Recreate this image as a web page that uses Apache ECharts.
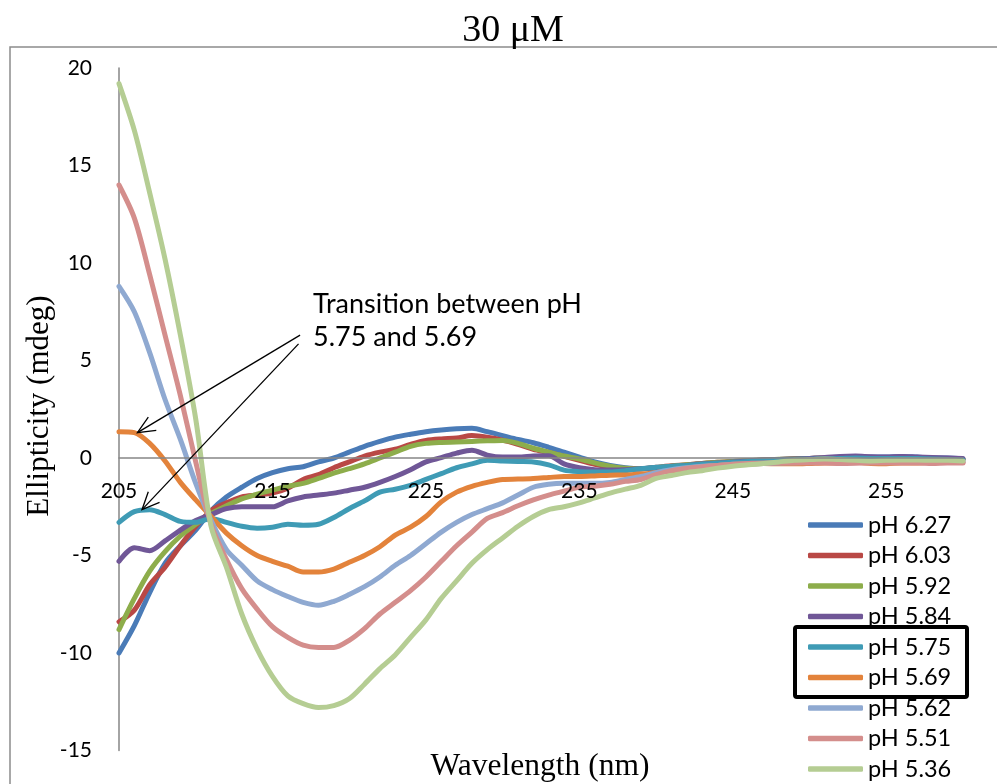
<!DOCTYPE html>
<html>
<head>
<meta charset="utf-8">
<script src="https://cdn.jsdelivr.net/npm/echarts@6/dist/echarts.min.js"></script>
<style>
  html, body { margin: 0; padding: 0; background: #ffffff; }
  #chart { width: 997px; height: 784px; }
</style>
</head>
<body>
<div id="chart"></div>
<script>
// Wavelength grid (nm), one reading per nm
const wavelengths = [];
for (let w = 205; w <= 260; w++) wavelengths.push(w);

const xTickLabels = [205, 215, 225, 235, 245, 255];
const yTicks = [-15, -10, -5, 0, 5, 10, 15, 20];

const seriesNames = ['pH 6.27', 'pH 6.03', 'pH 5.92', 'pH 5.84', 'pH 5.75', 'pH 5.69', 'pH 5.62', 'pH 5.51', 'pH 5.36'];

// CD ellipticity (mdeg), 205..260 nm
const ph627 = [-10.0, -8.6, -6.9, -5.4, -4.5, -3.7, -2.7, -2.0, -1.5, -1.05,
  -0.75, -0.55, -0.45, -0.2, 0.0, 0.3, 0.6, 0.85, 1.07, 1.22,
  1.35, 1.44, 1.5, 1.52, 1.35, 1.15, 0.95, 0.78, 0.55, 0.3,
  0.05, -0.2, -0.38, -0.5, -0.55, -0.5, -0.45, -0.38, -0.3, -0.25,
  -0.2, -0.15, -0.1, -0.08, -0.05, -0.03, 0.0, 0.05, 0.08, 0.05,
  0.05, 0.08, 0.05, 0.0, 0.0, -0.05];
const ph603 = [-8.4, -7.8, -6.5, -5.6, -4.5, -3.5, -2.7, -2.3, -2.0, -1.9,
  -1.8, -1.55, -1.1, -0.85, -0.5, -0.2, 0.1, 0.3, 0.45, 0.7,
  0.9, 0.98, 1.02, 1.15, 1.07, 0.92, 0.7, 0.45, 0.28, 0.08,
  -0.12, -0.32, -0.48, -0.55, -0.55, -0.48, -0.4, -0.35, -0.28, -0.22,
  -0.18, -0.14, -0.1, -0.08, -0.05, -0.03, 0.0, 0.03, 0.05, 0.03,
  0.0, 0.02, 0.0, -0.03, -0.05, -0.08];
const ph592 = [-8.8, -7.2, -5.8, -4.8, -4.0, -3.4, -2.85, -2.45, -2.1, -1.85,
  -1.65, -1.45, -1.3, -1.05, -0.78, -0.55, -0.3, 0.0, 0.3, 0.6,
  0.75, 0.8, 0.82, 0.85, 0.88, 0.9, 0.75, 0.5, 0.3, 0.1,
  -0.05, -0.25, -0.42, -0.52, -0.55, -0.5, -0.42, -0.35, -0.28, -0.22,
  -0.18, -0.14, -0.1, -0.06, -0.04, -0.02, 0.0, 0.0, 0.02, 0.0,
  -0.02, 0.0, 0.0, -0.02, -0.03, -0.05];
const ph584 = [-5.3, -4.6, -4.75, -4.25, -3.7, -3.2, -2.9, -2.6, -2.5, -2.5,
  -2.5, -2.2, -2.0, -1.9, -1.8, -1.65, -1.5, -1.25, -0.95, -0.6,
  -0.2, 0.02, 0.25, 0.4, 0.15, 0.05, 0.05, 0.1, 0.12, -0.3,
  -0.5, -0.6, -0.62, -0.6, -0.55, -0.5, -0.45, -0.38, -0.3, -0.25,
  -0.2, -0.15, -0.1, -0.08, -0.05, -0.02, 0.02, 0.08, 0.1, 0.06,
  0.05, 0.08, 0.05, 0.02, 0.0, -0.02];
const ph575 = [-3.3, -2.75, -2.65, -2.9, -3.25, -3.3, -3.1, -3.3, -3.5, -3.6,
  -3.55, -3.4, -3.45, -3.4, -3.05, -2.6, -2.2, -1.75, -1.6, -1.4,
  -1.1, -0.8, -0.5, -0.3, -0.12, -0.15, -0.18, -0.2, -0.35, -0.62,
  -0.7, -0.72, -0.72, -0.65, -0.55, -0.48, -0.42, -0.38, -0.32, -0.27,
  -0.22, -0.18, -0.14, -0.1, -0.08, -0.06, -0.05, -0.03, 0.0, -0.02,
  -0.03, -0.02, -0.03, -0.05, -0.08, -0.1];
const ph569 = [1.35, 1.3, 0.75, -0.15, -1.25, -2.15, -3.0, -3.85, -4.5, -5.0,
  -5.3, -5.55, -5.85, -5.85, -5.7, -5.35, -5.0, -4.55, -3.95, -3.55,
  -3.0, -2.25, -1.75, -1.45, -1.25, -1.1, -1.08, -1.05, -1.0, -0.95,
  -0.95, -0.92, -0.88, -0.87, -0.82, -0.75, -0.65, -0.55, -0.45, -0.38,
  -0.33, -0.3, -0.28, -0.3, -0.3, -0.28, -0.25, -0.25, -0.22, -0.28,
  -0.3, -0.25, -0.25, -0.22, -0.2, -0.22];
const ph562 = [8.8, 7.5, 5.4, 3.0, 0.95, -1.3, -3.2, -4.7, -5.5, -6.3,
  -6.75, -7.1, -7.4, -7.55, -7.35, -7.0, -6.6, -6.1, -5.5, -5.0,
  -4.4, -3.8, -3.3, -2.9, -2.6, -2.3, -1.9, -1.5, -1.35, -1.3,
  -1.3, -1.3, -1.25, -1.1, -0.95, -0.75, -0.6, -0.5, -0.42, -0.38,
  -0.32, -0.3, -0.28, -0.26, -0.24, -0.22, -0.2, -0.2, -0.2, -0.22,
  -0.22, -0.2, -0.18, -0.18, -0.2, -0.2];
const ph551 = [14.0, 12.3, 9.4, 6.3, 3.2, -0.2, -3.4, -5.2, -6.7, -7.75,
  -8.65, -9.2, -9.6, -9.72, -9.72, -9.35, -8.75, -8.0, -7.4, -6.8,
  -6.1, -5.3, -4.5, -3.8, -3.1, -2.8, -2.45, -2.15, -1.9, -1.7,
  -1.5, -1.45, -1.35, -1.2, -1.1, -0.85, -0.65, -0.52, -0.45, -0.38,
  -0.32, -0.28, -0.25, -0.25, -0.25, -0.25, -0.25, -0.28, -0.27, -0.25,
  -0.25, -0.25, -0.25, -0.28, -0.25, -0.25];
const ph536 = [19.2, 16.8, 13.6, 10.2, 6.3, 2.0, -3.5, -5.6, -8.0, -9.8,
  -11.2, -12.2, -12.6, -12.8, -12.7, -12.35, -11.6, -10.8, -10.1, -9.2,
  -8.3, -7.2, -6.3, -5.4, -4.7, -4.1, -3.5, -3.0, -2.65, -2.5,
  -2.3, -2.05, -1.8, -1.6, -1.4, -1.05, -0.9, -0.75, -0.65, -0.52,
  -0.42, -0.35, -0.28, -0.2, -0.12, -0.08, -0.05, -0.08, -0.12, -0.15,
  -0.12, -0.1, -0.1, -0.12, -0.12, -0.15];

const seriesValues = [ph627, ph603, ph592, ph584, ph575, ph569, ph562, ph551, ph536];
const seriesColors = ['#4A7BB7', '#B94845', '#8DAD4B', '#705797', '#3F9BB5', '#E3833B', '#8FA9D1', '#D48E8C', '#B5CD93'];

// Annotation arrows, in data coordinates [nm, mdeg]
const arrowLines = [
  { from: [216.8, 6.3], to: [206.2, 1.3] },
  { from: [216.7, 5.85], to: [206.5, -2.65] }
];

const chart = echarts.init(document.getElementById('chart'), null, { renderer: 'canvas' });

const serif = '"Liberation Serif", "Times New Roman", serif';
const sans = 'Lato, "Open Sans", sans-serif';

const series = seriesNames.map((name, i) => ({
  name: name,
  type: 'line',
  data: wavelengths.map((w, k) => [w, seriesValues[i][k]]),
  showSymbol: false,
  smooth: 0.3,
  lineStyle: { width: 5, color: seriesColors[i], cap: 'round', join: 'round' },
  itemStyle: { color: seriesColors[i] },
  emphasis: { disabled: true },
  z: 2 + i
}));

chart.setOption({
  animation: false,
  backgroundColor: '#ffffff',
  title: {
    text: '30 μM',
    left: 508,
    top: 7,
    textAlign: 'center',
    textStyle: { fontFamily: serif, fontWeight: 'normal', fontSize: 38, color: '#000' }
  },
  grid: { left: 119, right: 34, top: 68, bottom: 33.5, containLabel: false, outerBoundsMode: 'none' },
  legend: {
    orient: 'vertical',
    left: 808,
    top: 513,
    padding: 0,
    height: 271,
    icon: 'roundRect',
    itemWidth: 55,
    itemHeight: 5.5,
    itemGap: 6.5,
    textStyle: { fontFamily: sans, fontSize: 23.5, lineHeight: 22, color: '#000', padding: 0 },
    data: seriesNames
  },
  xAxis: {
    type: 'value',
    min: 205,
    max: 260,
    interval: 5,
    z: 20,
    axisLine: { onZero: false, lineStyle: { color: '#868686', width: 1.5 } },
    axisTick: { show: false },
    splitLine: { show: false },
    axisLabel: {
      margin: 23,
      fontFamily: sans,
      fontSize: 21,
      color: '#000',
      showMaxLabel: false,
      formatter: v => (xTickLabels.indexOf(v) >= 0 ? String(v) : '')
    }
  },
  yAxis: {
    type: 'value',
    min: yTicks[0],
    max: yTicks[yTicks.length - 1],
    interval: 5,
    axisLine: { show: true, onZero: false, lineStyle: { color: '#868686', width: 1.5 } },
    axisTick: { show: false },
    splitLine: { show: false },
    axisLabel: { margin: 27, fontFamily: sans, fontSize: 21, color: '#000' }
  },
  series: series
});

// Move the wavelength axis (line and labels) up to the zero ellipticity level
const zeroPx = chart.convertToPixel({ gridIndex: 0 }, [205, 0])[1];
const bottomPx = chart.convertToPixel({ gridIndex: 0 }, [205, yTicks[0]])[1];
chart.setOption({ xAxis: { offset: zeroPx - bottomPx } });

// Arrow geometry from data coordinates
function arrowGraphics() {
  const els = [];
  arrowLines.forEach(a => {
    const p0 = chart.convertToPixel({ gridIndex: 0 }, a.from);
    const p1 = chart.convertToPixel({ gridIndex: 0 }, a.to);
    const ang = Math.atan2(p1[1] - p0[1], p1[0] - p0[0]);
    const head = 19, spread = 0.42;
    const h1 = [p1[0] - head * Math.cos(ang - spread), p1[1] - head * Math.sin(ang - spread)];
    const h2 = [p1[0] - head * Math.cos(ang + spread), p1[1] - head * Math.sin(ang + spread)];
    els.push({
      type: 'line', z: 50,
      shape: { x1: p0[0], y1: p0[1], x2: p1[0], y2: p1[1] },
      style: { stroke: '#000', lineWidth: 1.3 }
    });
    els.push({
      type: 'polyline', z: 50,
      shape: { points: [h1, p1, h2] },
      style: { stroke: '#000', lineWidth: 1.3, fill: null }
    });
  });
  return els;
}

chart.setOption({
  graphic: [
    // outer chart frame
    { type: 'rect', z: -1, shape: { x: 10, y: 47, width: 1000, height: 800 },
      style: { stroke: '#8c8c8c', lineWidth: 1.5, fill: null } },
    // axis titles
    { type: 'text', z: 60, x: 540, y: 767,
      style: { text: 'Wavelength (nm)', font: '31.5px ' + serif, fill: '#000', textAlign: 'center', textVerticalAlign: 'middle' } },
    { type: 'text', z: 60, x: 40, y: 406, rotation: Math.PI / 2,
      style: { text: 'Ellipticity (mdeg)', font: '31px ' + serif, fill: '#000', textAlign: 'center', textVerticalAlign: 'middle' } },
    // annotation
    { type: 'text', z: 60, x: 313, y: 288,
      style: { text: 'Transi\u200Ction between pH\n5.75 and 5.69', font: '27px ' + sans, lineHeight: 33, fill: '#000', textAlign: 'left', textVerticalAlign: 'top' } },
    // highlight box around two legend entries
    { type: 'rect', z: 60, shape: { x: 795, y: 627, width: 172, height: 70, r: 2 },
      style: { stroke: '#000', lineWidth: 4, fill: null } }
  ].concat(arrowGraphics())
});
</script>
</body>
</html>
